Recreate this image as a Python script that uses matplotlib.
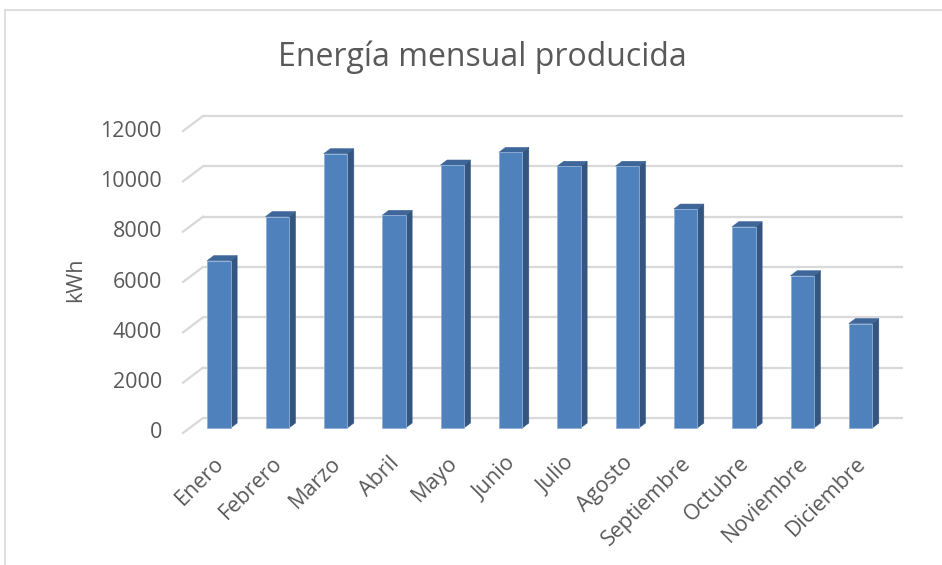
import matplotlib
matplotlib.use("Agg")
import matplotlib.pyplot as plt
import matplotlib.transforms as mtransforms
from matplotlib.patches import Polygon
from matplotlib.lines import Line2D

months = ["Enero", "Febrero", "Marzo", "Abril", "Mayo", "Junio", "Julio",
          "Agosto", "Septiembre", "Octubre", "Noviembre", "Diciembre"]
energy_kwh = [6650, 8400, 10900, 8450, 10450, 10950, 10400, 10400, 8700, 8000, 6050, 4150]
y_ticks = [0, 2000, 4000, 6000, 8000, 10000, 12000]

TEXT_COLOR = "#595959"
GRID_COLOR = "#d9d9d9"
FRONT = "#4f81bd"
SIDE = "#34557f"
TOP = "#3e6699"

plt.rcParams["font.family"] = ["Open Sans", "DejaVu Sans"]

W, H = 942, 565
fig = plt.figure(figsize=(W / 100, H / 100), dpi=100)
ax = fig.add_axes([183 / W, 132 / H, 700 / W, 302 / H])
ax.set_xlim(-0.5, len(months) - 0.5)
ax.set_ylim(0, 12000)
ax.axis("off")


def shift(dx_px, dy_px):
    # pixel offset -> data offset
    inv = ax.transData.inverted()
    p0 = inv.transform(ax.transData.transform((0, 0)))
    p1 = inv.transform(ax.transData.transform((0, 0)) + [dx_px, dy_px])
    return p1[0] - p0[0], p1[1] - p0[1]


# depth offsets (front face of bar, back face of bar, back wall)
fx, fy = shift(6.7, 5)
bx, by = shift(13.3, 10)
wx, wy = shift(20, 15)

xmin, xmax = ax.get_xlim()

# gridlines on back wall + side wall
for v in y_ticks:
    ax.plot([xmin + wx, xmax + wx], [v + wy, v + wy], color=GRID_COLOR, lw=1.6,
            zorder=1, clip_on=False, solid_capstyle="butt")
    ax.plot([xmin, xmin + wx], [v, v + wy], color=GRID_COLOR, lw=1.6,
            zorder=1, clip_on=False)

# bars
width = 0.4
for i, v in enumerate(energy_kwh):
    l = i - width / 2 + fx
    r = i + width / 2 + fx
    b = fy
    t = v + fy
    front = Polygon([(l, b), (r, b), (r, t), (l, t)], closed=True,
                    facecolor=FRONT, edgecolor="#8fb0d8", lw=0.6, zorder=3, clip_on=False)
    side = Polygon([(r, b), (r + (bx - fx), b + (by - fy)), (r + (bx - fx), t + (by - fy)), (r, t)],
                   closed=True, facecolor=SIDE, edgecolor=SIDE, lw=0.4, zorder=2, clip_on=False)
    top = Polygon([(l, t), (r, t), (r + (bx - fx), t + (by - fy)), (l + (bx - fx), t + (by - fy))],
                  closed=True, facecolor=TOP, edgecolor=TOP, lw=0.4, zorder=2, clip_on=False)
    ax.add_patch(side)
    ax.add_patch(top)
    ax.add_patch(front)

# y tick labels
for v in y_ticks:
    ax.text(xmin, v, str(v), transform=mtransforms.offset_copy(ax.transData, fig=fig, x=-21, y=0, units="dots"),
            ha="right", va="center", fontsize=15.5, color=TEXT_COLOR)

# x tick labels
lab_tr = mtransforms.offset_copy(ax.transData, fig=fig, x=9, y=-27, units="dots")
for i, m in enumerate(months):
    ax.text(i, 0, m, transform=lab_tr, rotation=45, rotation_mode="anchor",
            ha="right", va="center", fontsize=15.5, color=TEXT_COLOR)

fig.text(76 / W, 1 - 280 / H, "kWh", rotation=90, ha="center", va="center",
         fontsize=15.5, color=TEXT_COLOR)
fig.text(482 / W, 1 - 57 / H, "Energía mensual producida", ha="center", va="center",
         fontsize=23, color=TEXT_COLOR)

# chart frame (partially visible)
fig.add_artist(Line2D([5 / W, 1], [1 - 10 / H, 1 - 10 / H], color=GRID_COLOR, lw=1.2))
fig.add_artist(Line2D([5 / W, 5 / W], [0, 1 - 10 / H], color=GRID_COLOR, lw=1.2))

fig.savefig("out.png", dpi=100)
